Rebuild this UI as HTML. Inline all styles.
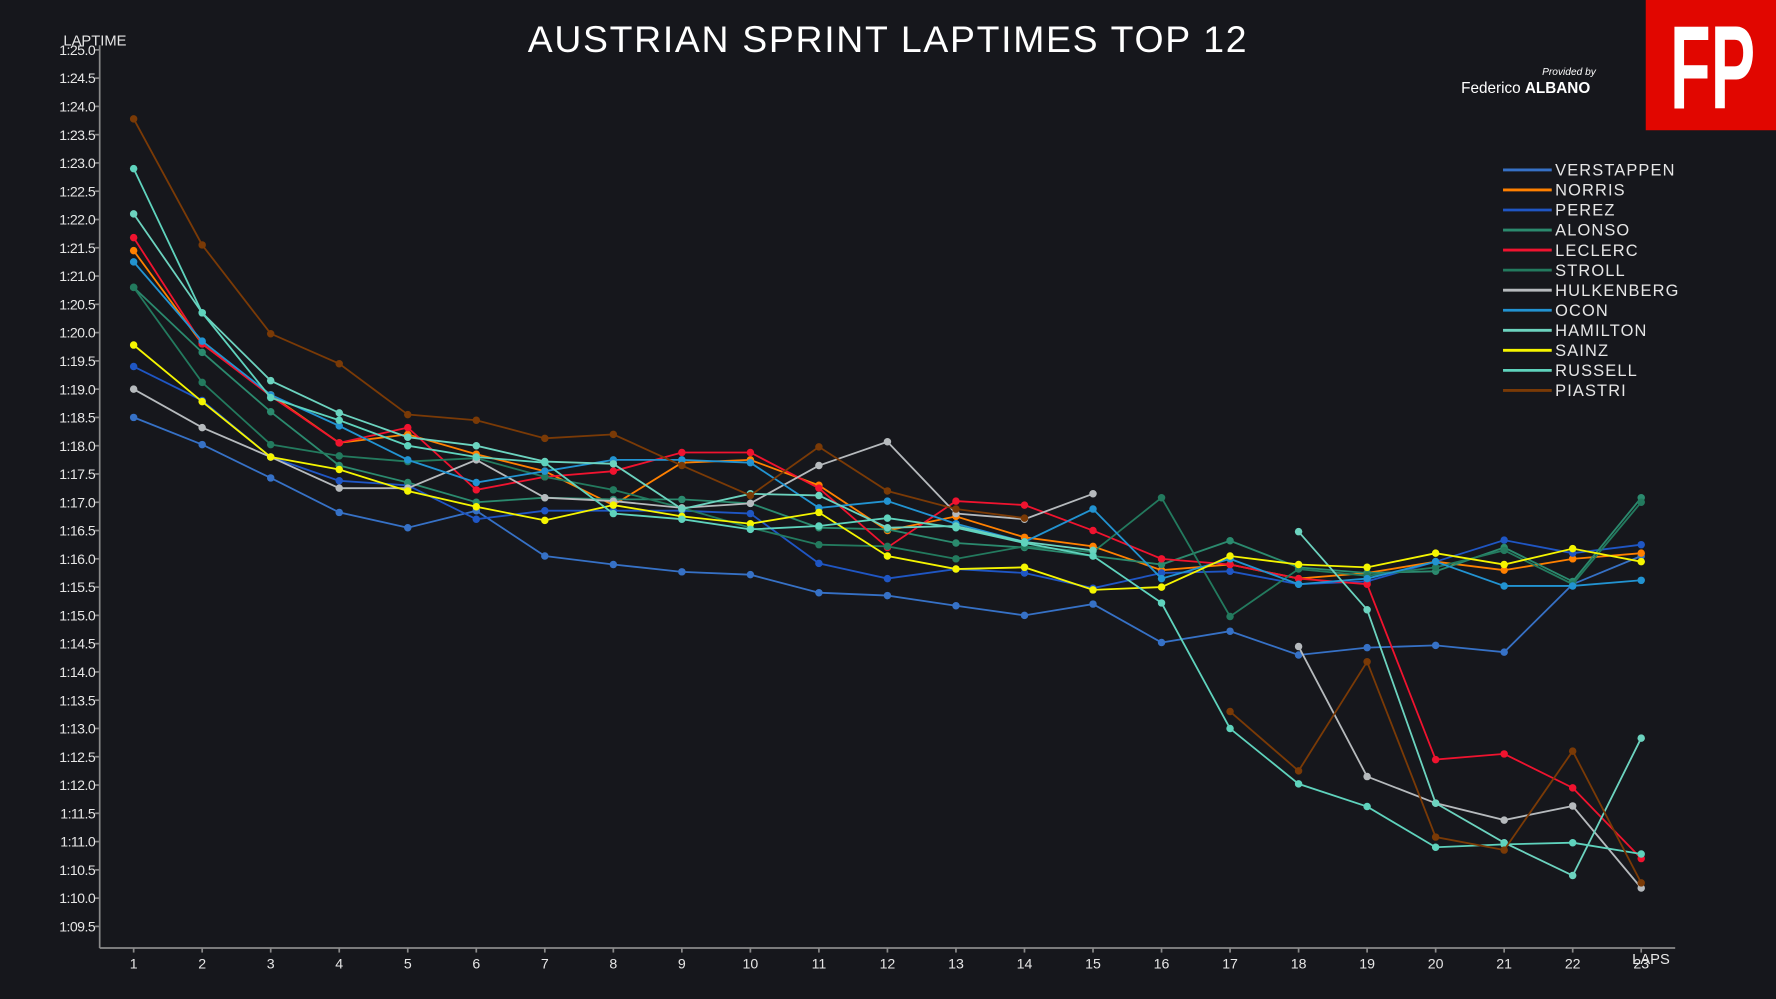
<!DOCTYPE html>
<html><head><meta charset="utf-8"><style>
html,body{margin:0;padding:0;background:#16171c;}
svg{display:block;}
</style></head><body>
<svg id="c" width="1776" height="999" viewBox="0 0 1568 882" preserveAspectRatio="none" xmlns="http://www.w3.org/2000/svg" font-family="Liberation Sans, sans-serif">
<rect width="1568" height="882" fill="#16171c"/>
<text x="784" y="46" text-anchor="middle" fill="#ffffff" font-size="33" font-weight="300" letter-spacing="1.5">AUSTRIAN SPRINT LAPTIMES TOP 12</text>
<text x="56" y="40" fill="#e6e6e6" font-size="13">LAPTIME</text>
<rect x="1453" y="0" width="115" height="115" fill="#e10600"/>
<text transform="translate(1512,96) scale(0.56,1)" text-anchor="middle" fill="#ffffff" font-size="105" font-weight="bold">FP</text>
<text x="1409" y="66" text-anchor="end" fill="#ffffff" font-size="9" font-style="italic">Provided by</text>
<text x="1404" y="82" text-anchor="end" fill="#ffffff" font-size="13.5" font-weight="bold"><tspan font-weight="normal">Federico </tspan>ALBANO</text>
<g id="axes" stroke="#8a8a8a" stroke-width="1.5" fill="none">
<line x1="88" y1="40" x2="88" y2="837"/>
<line x1="88" y1="837" x2="1479" y2="837"/>
</g>
<text x="1441" y="851" fill="#e6e6e6" font-size="13">LAPS</text>
<g id="g"></g>
</svg>
<script>
var g=document.getElementById('g'),NS='http://www.w3.org/2000/svg';
function X(l){return 118+(l-1)*60.5}
function Y(t){return 44+(25-t)*49.93}
function el(n,a,t){var e=document.createElementNS(NS,n);for(var k in a)e.setAttribute(k,a[k]);if(t)e.textContent=t;g.appendChild(e);return e}
for(var i=0;i<=31;i++){var t=25-i*0.5,y=Y(t);el('line',{x1:84,y1:y,x2:88,y2:y,stroke:'#8a8a8a','stroke-width':1.5});
var sec=t;var ss=Math.floor(sec);var lab='1:'+(ss<10?'0':'')+ss+'.'+(sec%1?'5':'0');
el('text',{x:84,y:y+4.5,'text-anchor':'end',fill:'#e6e6e6','font-size':12.5,'letter-spacing':'-0.5'},lab);}
for(var l=1;l<=23;l++){el('line',{x1:X(l),y1:837,x2:X(l),y2:841,stroke:'#8a8a8a','stroke-width':1.5});
el('text',{x:X(l),y:855,'text-anchor':'middle',fill:'#e6e6e6','font-size':12.5},''+l);}
var N=null;
var S=[
['VERSTAPPEN','#3671C6',[18.5,18.02,17.43,16.82,16.55,16.85,16.05,15.9,15.77,15.72,15.4,15.35,15.17,15.0,15.2,14.52,14.72,14.3,14.43,14.47,14.35,15.55,16.05]],
['NORRIS','#FF8000',[21.45,19.8,18.9,18.05,18.2,17.85,17.55,16.95,17.7,17.75,17.3,16.5,16.75,16.38,16.22,15.8,15.9,15.65,15.75,15.95,15.8,16.0,16.1]],
['PEREZ','#1f56c4',[19.4,18.8,17.8,17.38,17.3,16.7,16.85,16.85,16.85,16.8,15.92,15.65,15.82,15.75,15.48,15.75,15.78,15.55,15.6,15.95,16.33,16.1,16.25]],
['ALONSO','#2b8a6e',[20.8,19.65,18.6,17.65,17.35,17.0,17.08,17.05,17.05,16.98,16.55,16.52,16.28,16.2,16.05,15.9,16.32,15.85,15.75,15.78,16.2,15.6,17.08]],
['LECLERC','#F0132F',[21.68,19.8,18.88,18.05,18.32,17.22,17.45,17.55,17.88,17.88,17.25,16.2,17.02,16.95,16.5,16.0,15.9,15.65,15.55,12.45,12.55,11.95,10.7]],
['STROLL','#237a5e',[20.8,19.12,18.02,17.82,17.72,17.78,17.45,17.22,16.9,16.55,16.25,16.22,16.0,16.22,16.12,17.08,14.98,15.82,15.7,15.85,16.15,15.55,17.0]],
['HULKENBERG','#b6babd',[19.0,18.32,17.8,17.25,17.25,17.75,17.08,17.02,16.9,16.98,17.65,18.07,16.8,16.7,17.15,N,N,14.45,12.15,11.68,11.38,11.63,10.18]],
['OCON','#2293d1',[21.25,19.85,18.9,18.35,17.75,17.35,17.55,17.75,17.75,17.7,16.9,17.02,16.62,16.3,16.88,15.65,16.0,15.55,15.65,15.95,15.52,15.52,15.62]],
['HAMILTON','#6CD3BF',[22.1,20.35,19.15,18.58,18.15,18.0,17.72,17.68,16.88,17.15,17.12,16.55,16.58,16.3,16.15,N,N,16.48,15.1,11.68,10.98,10.4,12.83]],
['SAINZ','#f5f500',[19.78,18.78,17.8,17.58,17.2,16.92,16.68,16.95,16.75,16.62,16.82,16.05,15.82,15.85,15.45,15.5,16.05,15.9,15.85,16.1,15.9,16.18,15.95]],
['RUSSELL','#5fd3bd',[22.9,20.35,18.85,18.45,18.0,17.8,17.7,16.8,16.7,16.52,16.58,16.72,16.55,16.28,16.05,15.22,13.0,12.02,11.62,10.9,10.95,10.98,10.78]],
['PIASTRI','#7a3a06',[23.78,21.55,19.98,19.45,18.55,18.45,18.13,18.2,17.65,17.12,17.98,17.2,16.88,16.72,N,N,13.3,12.25,14.18,11.08,10.85,12.6,10.27]]
];
S.forEach(function(s,k){
 var d='',pen=false;
 s[2].forEach(function(v,i){if(v===N){pen=false;return}d+=(pen?'L':'M')+X(i+1).toFixed(1)+' '+Y(v).toFixed(1);pen=true});
 el('path',{d:d,fill:'none',stroke:s[1],'stroke-width':1.6});
 s[2].forEach(function(v,i){if(v!==N)el('circle',{cx:X(i+1),cy:Y(v),r:3.3,fill:s[1]})});
 var ly=150+k*17.7;
 el('line',{x1:1327,y1:ly,x2:1370,y2:ly,stroke:s[1],'stroke-width':2.5});
 el('text',{x:1373,y:ly+5,fill:'#e6e6e6','font-size':14.5,'letter-spacing':'1'},s[0]);
});
</script>
</body></html>
